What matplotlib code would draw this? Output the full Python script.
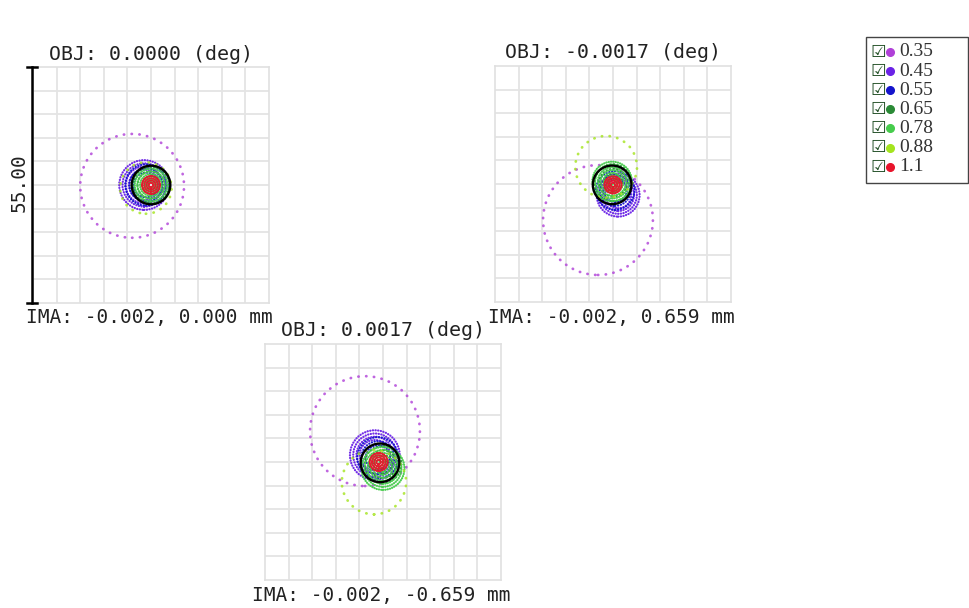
import numpy as np
import matplotlib
matplotlib.use("Agg")
import matplotlib.pyplot as plt
from matplotlib.patches import Circle, Rectangle
from matplotlib.lines import Line2D

# ================= data =================
WAVES = ['0.35', '0.45', '0.55', '0.65', '0.78', '0.88', '1.1']
WAVE_COLORS = ['#b040d8', '#6a22e6', '#1414cc', '#2a8a36', '#46cc4c', '#a4e41e', '#e8142b']

OBJ_LABELS = ['0.0000', '-0.0017', '0.0017']
IMA_LABELS = ['-0.002, 0.000', '-0.002, 0.659', '-0.002, -0.659']

# spot centre (x, y) and radius for each wavelength, in um from box centre
F1_X = [-4.4, -1.6, -1.2, 0.0, 0.0, -1.2, 0.0]
F1_Y = [-0.2, 0.0, 0.0, 0.0, 0.0, -0.7, 0.0]
F1_R = [12.1, 5.8, 4.8, 4.2, 4.4, 6.0, 2.1]

F2_X = [-3.5, 1.2, 0.5, 0.0, -0.2, -1.6, 0.0]
F2_Y = [-8.4, -2.6, -1.5, 0.3, 0.6, 4.0, -0.2]
F2_R = [12.8, 5.0, 4.5, 4.3, 4.6, 7.2, 2.0]

F3_X = [-4.2, -1.9, -1.2, 0.0, 0.0, -2.1, -1.0]
F3_Y = [7.2, 1.6, 1.0, -0.5, -1.5, -4.7, 0.0]
F3_R = [12.8, 5.8, 4.8, 4.3, 5.0, 7.5, 2.1]

AIRY_X = [0.0, -0.2, -0.7]
AIRY_Y = [0.0, -0.2, -0.2]
AIRY_R = 4.5
BOX_UM = 55.00
# ========================================

W, H = 969, 608
HALF = BOX_UM / 2

# panel boxes in pixels: left, top, size
BOXES = [(33, 67, 236), (495, 66, 236), (265, 344, 236)]
# ring fractions drawn for each wavelength (outer ring + inner rays), dot gap
RINGS = [(1.0,), (1.0, 0.87, 0.74, 0.61), (1.0, 0.8, 0.6), (1.0, 0.75, 0.5, 0.25),
         (1.0, 0.86, 0.72, 0.58, 0.44, 0.3, 0.16), (1.0,), (1.0, 0.75, 0.5, 0.25)]
GAPS = [2.7, 1.1, 1.2, 1.5, 0.95, 2.7, 0.75]

fig = plt.figure(figsize=(W / 100, H / 100), dpi=100)
fig.patch.set_facecolor('white')


def fx(x):
    return x / W


def fy(y):
    return 1 - y / H


mono = 'DejaVu Sans Mono'
fields = [(F1_X, F1_Y, F1_R), (F2_X, F2_Y, F2_R), (F3_X, F3_Y, F3_R)]
axes = []
for i, (left, top, size) in enumerate(BOXES):
    ax = fig.add_axes([fx(left), fy(top + size), size / W, size / H])
    ax.set_xlim(-HALF, HALF)
    ax.set_ylim(-HALF, HALF)
    ax.set_xticks([])
    ax.set_yticks([])
    for s in ax.spines.values():
        s.set_color('#e0e0e0')
        s.set_linewidth(1.2)
    for g in np.linspace(-HALF, HALF, 11)[1:-1]:
        ax.axvline(g, color='#e4e4e4', lw=1.3, zorder=0)
        ax.axhline(g, color='#e4e4e4', lw=1.3, zorder=0)

    xs, ys, rs = fields[i]
    for k in range(len(WAVES)):
        sparse = len(RINGS[k]) == 1
        for frac in RINGS[k]:
            lw = 2.0 if sparse else 1.6
            c = Circle((xs[k], ys[k]), rs[k] * frac, fill=False, ec=WAVE_COLORS[k],
                       lw=lw, linestyle=(0, (0.1, GAPS[k])), capstyle='round',
                       alpha=0.8 if sparse else 0.95, zorder=2 + k)
            ax.add_patch(c)
    ax.add_patch(Circle((AIRY_X[i], AIRY_Y[i]), AIRY_R, fill=False, ec='black',
                        lw=1.7, zorder=20))
    axes.append(ax)

    cx = left + size / 2
    fig.text(fx(cx), fy(top - 13), f'OBJ: {OBJ_LABELS[i]} (deg)', family=mono,
             fontsize=14.3, ha='center', va='center', color='#222222')
    fig.text(fx(cx - 2), fy(top + size + 15), f'IMA: {IMA_LABELS[i]} mm', family=mono,
             fontsize=14, ha='center', va='center', color='#222222')

# scale bar next to the first panel
ax1 = axes[0]
bx = -HALF - 0.25
ax1.plot([bx, bx], [-HALF, HALF], color='black', lw=1.8, clip_on=False, zorder=30)
ax1.plot([bx - 1.2, bx + 1.2], [HALF, HALF], color='black', lw=1.8, clip_on=False, zorder=30)
ax1.plot([bx - 1.2, bx + 1.2], [-HALF, -HALF], color='black', lw=1.8, clip_on=False, zorder=30)
fig.text(fx(19), fy(BOXES[0][1] + BOXES[0][2] / 2 - 2), f'{BOX_UM:.2f}', family=mono,
         fontsize=14, rotation=90, ha='center', va='center', color='#222222')

# legend
fig.add_artist(Rectangle((fx(866), fy(183)), (968 - 866) / W, (183 - 37) / H,
                         transform=fig.transFigure, fill=False, ec='#444444', lw=1.0))
for k, lab in enumerate(WAVES):
    y = 52 + k * 19.1
    fig.text(fx(878), fy(y), '\u2611', family='DejaVu Sans', fontsize=12.5,
             ha='center', va='center', color='#1f4d23')
    fig.add_artist(Line2D([fx(890)], [fy(y)], marker='o', ms=5.5, color=WAVE_COLORS[k],
                          transform=fig.transFigure))
    fig.text(fx(899), fy(y), lab, family='Liberation Serif', fontsize=14,
             ha='left', va='center', color='#333333')

fig.savefig('out.png', dpi=100)
